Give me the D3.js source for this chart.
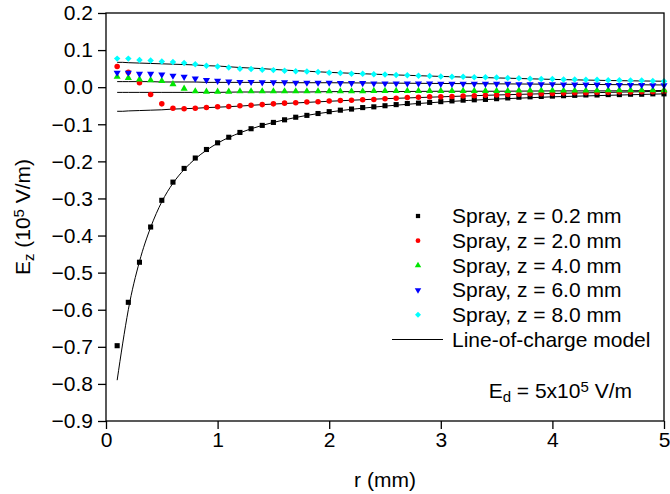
<!DOCTYPE html>
<html>
<head>
<meta charset="utf-8">
<script src="https://cdn.jsdelivr.net/npm/d3@7"></script>
<style>
  body { margin: 0; background: #fff; }
  svg { font-family: "Liberation Sans", Arial, sans-serif; }
</style>
</head>
<body>
<script>
// radial positions of the spray points (mm)
var R = [0.1, 0.2, 0.3, 0.4, 0.5, 0.6, 0.7, 0.8, 0.9, 1.0,
         1.1, 1.2, 1.3, 1.4, 1.5, 1.6, 1.7, 1.8, 1.9, 2.0,
         2.1, 2.2, 2.3, 2.4, 2.5, 2.6, 2.7, 2.8, 2.9, 3.0,
         3.1, 3.2, 3.3, 3.4, 3.5, 3.6, 3.7, 3.8, 3.9, 4.0,
         4.1, 4.2, 4.3, 4.4, 4.5, 4.6, 4.7, 4.8, 4.9, 5.0];

// spray data, Ez (1e5 V/m)
var Z02 = [-0.697, -0.580, -0.472, -0.377, -0.305, -0.256, -0.219, -0.191, -0.168, -0.150,
           -0.135, -0.122, -0.112, -0.103, -0.095, -0.088, -0.081, -0.076, -0.071, -0.066,
           -0.062, -0.059, -0.055, -0.053, -0.050, -0.047, -0.044, -0.043, -0.041, -0.039,
           -0.037, -0.035, -0.034, -0.033, -0.031, -0.029, -0.027, -0.026, -0.025, -0.024,
           -0.023, -0.022, -0.021, -0.021, -0.020, -0.020, -0.019, -0.019, -0.018, -0.018];
var Z2 = [0.056, 0.040, 0.012, -0.020, -0.045, -0.057, -0.058, -0.057, -0.055, -0.053,
          -0.052, -0.050, -0.049, -0.047, -0.045, -0.043, -0.042, -0.040, -0.039, -0.037,
          -0.036, -0.035, -0.034, -0.033, -0.031, -0.030, -0.028, -0.027, -0.026, -0.026,
          -0.025, -0.024, -0.023, -0.022, -0.021, -0.020, -0.019, -0.018, -0.018, -0.017,
          -0.016, -0.015, -0.015, -0.014, -0.014, -0.013, -0.013, -0.012, -0.012, -0.011];
var Z4 = [0.028, 0.025, 0.021, 0.019, 0.017, 0.008, -0.004, -0.011, -0.012, -0.012,
          -0.012, -0.011, -0.011, -0.011, -0.011, -0.011, -0.011, -0.011, -0.011, -0.011,
          -0.011, -0.011, -0.011, -0.010, -0.010, -0.010, -0.010, -0.010, -0.010, -0.010,
          -0.010, -0.010, -0.010, -0.010, -0.010, -0.010, -0.009, -0.009, -0.009, -0.009,
          -0.009, -0.009, -0.009, -0.009, -0.008, -0.008, -0.008, -0.008, -0.008, -0.008];
var Z6 = [0.039, 0.039, 0.036, 0.036, 0.034, 0.031, 0.028, 0.023, 0.019, 0.017,
          0.015, 0.014, 0.014, 0.013, 0.013, 0.013, 0.012, 0.012, 0.012, 0.012,
          0.011, 0.011, 0.011, 0.010, 0.010, 0.010, 0.010, 0.010, 0.010, 0.009,
          0.009, 0.009, 0.009, 0.009, 0.009, 0.009, 0.008, 0.008, 0.008, 0.008,
          0.007, 0.007, 0.007, 0.007, 0.006, 0.006, 0.006, 0.006, 0.005, 0.005];
var Z8 = [0.077, 0.077, 0.073, 0.072, 0.069, 0.068, 0.065, 0.062, 0.058, 0.056,
          0.053, 0.050, 0.049, 0.047, 0.046, 0.044, 0.043, 0.042, 0.041, 0.039,
          0.038, 0.036, 0.036, 0.035, 0.034, 0.033, 0.032, 0.031, 0.030, 0.029,
          0.028, 0.028, 0.027, 0.027, 0.026, 0.025, 0.024, 0.023, 0.022, 0.022,
          0.021, 0.021, 0.020, 0.020, 0.019, 0.019, 0.018, 0.018, 0.017, 0.016];

// line-of-charge model curves
var R_MODEL = [0.1, 0.15, 0.2, 0.3, 0.4, 0.5, 0.6, 0.7, 0.8, 0.9, 1.0,
               1.2, 1.4, 1.6, 1.8, 2.0, 2.5, 3.0, 3.5, 4.0, 4.5, 5.0];
var M02 = [-0.790, -0.690, -0.600, -0.470, -0.378, -0.309, -0.259, -0.222, -0.193, -0.170, -0.151,
           -0.123, -0.103, -0.088, -0.076, -0.067, -0.051, -0.040, -0.032, -0.026, -0.022, -0.018];
var M2 = [-0.065, -0.065, -0.064, -0.063, -0.062, -0.061, -0.059, -0.058, -0.057, -0.055, -0.054,
          -0.051, -0.047, -0.044, -0.041, -0.038, -0.031, -0.026, -0.021, -0.017, -0.014, -0.011];
var M4 = [-0.014, -0.014, -0.014, -0.014, -0.014, -0.014, -0.014, -0.014, -0.014, -0.014, -0.014,
          -0.013, -0.013, -0.013, -0.013, -0.012, -0.012, -0.011, -0.011, -0.010, -0.010, -0.009];
var M6 = [0.015, 0.015, 0.015, 0.015, 0.015, 0.014, 0.014, 0.014, 0.014, 0.013, 0.013,
          0.013, 0.013, 0.012, 0.012, 0.012, 0.011, 0.010, 0.009, 0.008, 0.007, 0.006];
var M8 = [0.067, 0.067, 0.066, 0.065, 0.064, 0.063, 0.062, 0.061, 0.060, 0.058, 0.057,
          0.053, 0.050, 0.046, 0.043, 0.040, 0.034, 0.029, 0.025, 0.021, 0.018, 0.016];

var LABELS = ["Spray, z = 0.2 mm", "Spray, z = 2.0 mm", "Spray, z = 4.0 mm",
              "Spray, z = 6.0 mm", "Spray, z = 8.0 mm"];
var X_TICKS = [0, 1, 2, 3, 4, 5];
var Y_TICKS = [0.2, 0.1, 0.0, -0.1, -0.2, -0.3, -0.4, -0.5, -0.6, -0.7, -0.8, -0.9];

var MARGINS = {top: 13, bottom: 73, left: 106, right: 6};
var W = 670, H = 494;
var iw = W - MARGINS.left - MARGINS.right, ih = H - MARGINS.top - MARGINS.bottom;
var FS = 21;

var series = [
    {vals: Z02, color: "#000000", sym: d3.symbolSquare, size: 26, rot: 0},
    {vals: Z2, color: "#ff0000", sym: d3.symbolCircle, size: 24, rot: 0},
    {vals: Z4, color: "#00e600", sym: d3.symbolTriangle, size: 22, rot: 0},
    {vals: Z6, color: "#0000ff", sym: d3.symbolTriangle, size: 22, rot: 180},
    {vals: Z8, color: "#00ffff", sym: d3.symbolSquare, size: 21, rot: 45}
];
var models = [M02, M2, M4, M6, M8];

var svg = d3.select("body").append("svg").attr("width", W).attr("height", H);
var g = svg.append("g").attr("transform", "translate(" + MARGINS.left + "," + MARGINS.top + ")");

var x = d3.scaleLinear().domain([0, 5]).range([0, iw]);
var y = d3.scaleLinear().domain([-0.9, 0.2]).range([ih, 0]);

// model lines
var line = d3.line()
    .x(function (d) { return x(d[0]); })
    .y(function (d) { return y(d[1]); })
    .curve(d3.curveMonotoneX);
models.forEach(function (m) {
    g.append("path")
        .datum(R_MODEL.map(function (r, i) { return [r, m[i]]; }))
        .attr("d", line)
        .attr("fill", "none")
        .attr("stroke", "#000")
        .attr("stroke-width", 1);
});

// spray points
series.forEach(function (s) {
    g.selectAll(null).data(R.map(function (r, i) { return [r, s.vals[i]]; }))
        .enter().append("path")
        .attr("d", d3.symbol().type(s.sym).size(s.size))
        .attr("fill", s.color)
        .attr("transform", function (d) {
            return "translate(" + x(d[0]) + "," + y(d[1]) + ") rotate(" + s.rot + ")";
        });
});

// frame
g.append("rect").attr("width", iw).attr("height", ih)
    .attr("fill", "none").attr("stroke", "#000").attr("stroke-width", 1.3);

// axes
var xAxis = d3.axisBottom(x).tickValues(X_TICKS).tickSize(8).tickPadding(3).tickFormat(d3.format("d"));
var yAxis = d3.axisLeft(y).tickValues(Y_TICKS).tickSize(8).tickPadding(5).tickFormat(d3.format(".1f"));
var gx = g.append("g").attr("transform", "translate(0," + ih + ")").call(xAxis);
var gy = g.append("g").call(yAxis);
[gx, gy].forEach(function (a) {
    a.select(".domain").remove();
    a.selectAll("line").attr("stroke", "#000").attr("stroke-width", 1.3);
    a.selectAll("text").attr("font-size", FS).attr("fill", "#000")
        .attr("font-family", "Liberation Sans, Arial, sans-serif");
});

// axis titles
svg.append("text").attr("x", MARGINS.left + iw / 2).attr("y", 487)
    .attr("text-anchor", "middle").attr("font-size", FS).text("r (mm)");

var yt = svg.append("text")
    .attr("transform", "translate(30," + (MARGINS.top + ih / 2) + ") rotate(-90)")
    .attr("text-anchor", "middle").attr("font-size", FS);
yt.append("tspan").text("E");
yt.append("tspan").attr("baseline-shift", "-25%").attr("font-size", 15).text("z");
yt.append("tspan").text(" (10");
yt.append("tspan").attr("baseline-shift", "40%").attr("font-size", 15).text("5");
yt.append("tspan").text(" V/m)");

// legend
var leg = svg.append("g").attr("transform", "translate(418,216)");
series.forEach(function (s, i) {
    leg.append("path")
        .attr("d", d3.symbol().type(s.sym).size(18))
        .attr("fill", s.color)
        .attr("transform", "translate(0," + (i * 24.7) + ") rotate(" + s.rot + ")");
    leg.append("text").attr("x", 34).attr("y", i * 24.7).attr("dy", "0.35em")
        .attr("font-size", FS).text(LABELS[i]);
});
leg.append("line").attr("x1", -26).attr("x2", 25).attr("y1", 5 * 24.7).attr("y2", 5 * 24.7)
    .attr("stroke", "#000").attr("stroke-width", 1);
leg.append("text").attr("x", 34).attr("y", 5 * 24.7).attr("dy", "0.35em")
    .attr("font-size", FS).text("Line-of-charge model");

var ed = svg.append("text").attr("x", 632).attr("y", 398)
    .attr("text-anchor", "end").attr("font-size", FS);
ed.append("tspan").text("E");
ed.append("tspan").attr("baseline-shift", "-25%").attr("font-size", 15).text("d");
ed.append("tspan").text(" = 5x10");
ed.append("tspan").attr("baseline-shift", "40%").attr("font-size", 15).text("5");
ed.append("tspan").text(" V/m");
</script>
</body>
</html>
